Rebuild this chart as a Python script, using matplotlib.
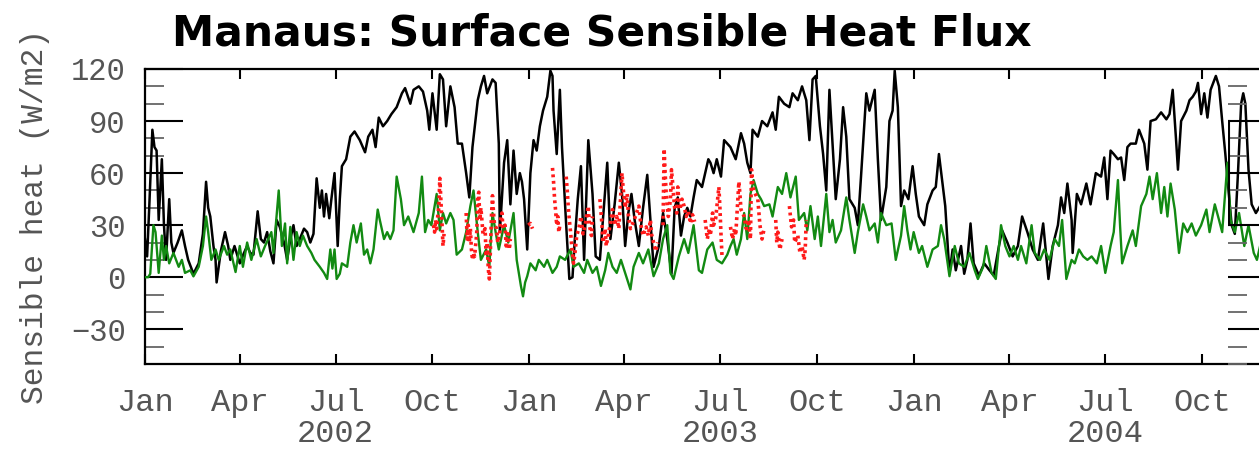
from __future__ import annotations

import matplotlib

matplotlib.use("Agg")
import matplotlib.dates as mdates
import matplotlib.pyplot as plt
import numpy as np
import pandas as pd
from matplotlib.ticker import FuncFormatter, MultipleLocator

START = pd.Timestamp("2002-01-01")

# observed flux (black), days since 2002-01-01 and W/m2
black_day = [
    0, 2, 4, 7, 9, 11, 13, 16, 18, 20, 23, 25, 27, 31, 35, 38, 41, 46, 51, 55,
    58, 60, 62, 65, 67, 68, 72, 76, 79, 81, 85, 90, 94, 97, 100, 103, 107, 110, 113, 116,
    119, 122, 125, 128, 132, 135, 138, 141, 144, 147, 151, 154, 157, 160, 163, 166, 168, 170, 172, 175,
    177, 180, 183, 185, 187, 191, 195, 199, 204, 209, 212, 216, 219, 222, 226, 230, 234, 239, 244, 247,
    252, 255, 260, 264, 268, 270, 273, 277, 280, 283, 286, 290, 294, 297, 301, 305, 308, 311, 316, 319,
    322, 325, 330, 333, 336, 337, 341, 344, 347, 350, 353, 356, 358, 360, 363, 366, 369, 372, 375, 378,
    382, 385, 387, 388, 391, 394, 396, 400, 403, 406, 408, 411, 414, 417, 421, 425, 428, 432, 436, 439,
    442, 446, 450, 453, 456, 459, 462, 465, 469, 473, 477, 480, 483, 488, 492, 496, 500, 503, 506, 509,
    512, 515, 518, 521, 524, 529, 532, 535, 537, 540, 543, 547, 550, 553, 556, 561, 566, 569, 572, 575,
    577, 582, 586, 591, 596, 599, 602, 607, 612, 615, 620, 624, 628, 631, 634, 637, 641, 644, 647, 650,
    653, 656, 660, 663, 666, 669, 674, 677, 680, 685, 688, 693, 696, 699, 704, 707, 710, 712, 715, 718,
    721, 725, 729, 732, 735, 740, 743, 748, 751, 754, 757, 760, 764, 767, 770, 775, 778, 781, 784, 787,
    792, 797, 802, 806, 811, 814, 819, 824, 829, 833, 838, 843, 848, 853, 858, 862, 867, 870, 873, 876,
    880, 881, 885, 889, 894, 898, 903, 908, 911, 914, 917, 920, 924, 927, 930, 933, 936, 941, 944, 949,
    952, 955, 960, 965, 970, 973, 976, 979, 981, 984, 989, 992, 995, 998, 1000, 1003, 1006, 1009, 1012, 1017,
    1020, 1023, 1026, 1029, 1032, 1035, 1038, 1041, 1043, 1045, 1048, 1051, 1055, 1059,
]
black_val = [
    22, 12, 40, 85, 75, 73, 33, 68, 30, 10, 45, 20, 14, 20, 27, 18, 10, 2, 8, 25,
    55, 40, 35, 18, 10, -3, 15, 26, 18, 10, 18, 8, 14, 18, 14, 13, 38, 22, 20, 26,
    15, 8, 33, 29, 20, 10, 22, 30, 18, 22, 28, 26, 20, 25, 57, 40, 50, 35, 48, 34,
    45, 60, 18, 45, 64, 68, 81, 84, 79, 72, 81, 85, 75, 92, 87, 90, 94, 98, 106, 109,
    100, 108, 110, 107, 96, 85, 106, 85, 117, 114, 87, 110, 98, 77, 77, 60, 46, 75, 102, 110,
    116, 106, 114, 112, 77, 26, 66, 79, 42, 73, 48, 60, 55, 45, 16, 60, 79, 73, 87, 96,
    104, 119, 116, 96, 71, 108, 75, 30, -1, 0, 20, 45, 64, 10, 79, 48, 12, 10, 42, 66,
    22, 42, 66, 48, 18, 37, 48, 33, 18, 40, 59, 33, 6, 18, 37, 22, 2, 40, 46, 24,
    35, 40, 35, 46, 56, 52, 60, 68, 66, 60, 68, 58, 79, 77, 75, 68, 83, 77, 66, 60,
    85, 81, 90, 87, 95, 85, 104, 100, 98, 106, 102, 110, 102, 79, 114, 116, 87, 71, 50, 108,
    77, 45, 68, 98, 81, 45, 40, 30, 58, 106, 96, 108, 68, 33, 52, 90, 96, 119, 98, 41,
    50, 45, 64, 48, 35, 30, 42, 50, 52, 71, 56, 41, 2, 16, 4, 18, 2, 10, 31, 8,
    1, 8, 4, 1, 18, 27, 20, 12, 18, 35, 26, 16, 10, 31, -1, 18, 30, 46, 37, 54,
    33, 14, 48, 42, 54, 42, 60, 58, 69, 45, 73, 71, 68, 69, 56, 75, 77, 77, 85, 77,
    62, 90, 91, 95, 91, 94, 108, 81, 62, 90, 96, 102, 104, 107, 112, 94, 106, 92, 108, 116,
    110, 90, 71, 50, 30, 25, 60, 100, 106, 100, 62, 42, 37, 41,
]

# model flux (green)
green_day = [
    0, 3, 5, 8, 10, 13, 16, 18, 20, 23, 27, 32, 35, 38, 43, 46, 51, 55, 58, 60,
    63, 67, 70, 75, 78, 81, 86, 90, 93, 97, 101, 106, 110, 114, 120, 122, 127, 130, 133, 135,
    138, 141, 144, 147, 150, 154, 158, 161, 166, 170, 173, 176, 178, 180, 182, 185, 187, 192, 195, 198,
    201, 205, 208, 211, 214, 217, 221, 223, 227, 230, 233, 236, 239, 243, 246, 250, 255, 260, 263, 266,
    269, 272, 277, 280, 283, 286, 290, 293, 296, 301, 305, 309, 312, 316, 319, 324, 327, 330, 333, 336,
    341, 345, 350, 353, 357, 359, 361, 363, 366, 371, 374, 379, 382, 387, 391, 394, 399, 404, 407, 412,
    417, 420, 425, 429, 433, 437, 440, 444, 448, 452, 456, 461, 464, 469, 473, 478, 483, 488, 492, 496,
    499, 502, 507, 512, 516, 521, 526, 529, 534, 539, 543, 548, 553, 556, 559, 562, 566, 569, 572, 575,
    578, 582, 585, 588, 593, 596, 601, 605, 609, 613, 618, 621, 626, 629, 632, 636, 639, 642, 647, 650,
    653, 656, 661, 666, 669, 674, 677, 682, 685, 688, 693, 696, 699, 704, 709, 713, 718, 721, 724, 727,
    730, 735, 738, 743, 748, 753, 756, 759, 764, 769, 773, 778, 783, 788, 791, 796, 799, 804, 808, 813,
    817, 821, 825, 829, 832, 837, 842, 845, 850, 854, 859, 864, 868, 871, 875, 880, 883, 887, 891, 895,
    899, 904, 908, 912, 917, 920, 924, 926, 928, 933, 938, 941, 946, 951, 954, 957, 961, 965, 968, 971,
    974, 978, 982, 986, 990, 994, 998, 1003, 1008, 1011, 1016, 1020, 1023, 1028, 1031, 1035, 1039, 1044, 1048, 1053,
    1056, 1059,
]
green_val = [
    0, 0, 2, 30, 26, 2.5, 24, 10, 18, 8, 14, 6, 10, 2.5, 4, 0.5, 6, 18, 35, 26,
    10, 16, 10, 18, 13, 16, 3, 18, 6, 20, 10, 22, 12, 18, 26, 14, 50, 18, 31, 8,
    29, 10, 26, 18, 24, 18, 14, 10, 6, 2.5, -1, 16, 5, 16, -1, 2, 8, 6, 20, 30,
    20, 31, 13, 16, 8, 16, 39, 33, 22, 26, 22, 27, 58, 45, 30, 35, 26, 37, 58, 26,
    33, 30, 48, 27, 37, 31, 37, 33, 13, 16, 26, 41, 50, 26, 10, 16, 6, 37, 26, 16,
    30, 20, 37, 10, -5, -11, -3, 0.6, 8, 4, 10, 6, 10, 2.5, 6, 12, 10, 16, 6, 8,
    2.5, 10, 2.5, 6, -5, 4, 14, 6, 2.5, 10, 2.5, -7, 6, 14, 8, 16, 0.6, 8, 22, 30,
    2.5, -1, 12, 22, 14, 30, 4, 2.5, 16, 20, 10, 8, 13, 18, 22, 13, 22, 37, 22, 48,
    56, 48, 45, 41, 42, 35, 52, 48, 60, 46, 58, 33, 37, 27, 41, 22, 35, 18, 48, 26,
    33, 20, 27, 46, 33, 14, 26, 42, 35, 27, 31, 20, 37, 30, 31, 10, 24, 41, 27, 16,
    26, 14, 18, 6, 16, 18, 30, 22, 0.6, 18, 8, 6, 14, 4, -1, 6, 18, 2.5, -1, 30,
    18, 12, 18, 10, 18, 8, 30, 14, 10, 16, 10, 22, 18, 33, -1, 10, 8, 16, 12, 10,
    12, 8, 18, 2.5, 18, 26, 56, 30, 8, 18, 27, 18, 41, 48, 58, 45, 60, 37, 52, 35,
    54, 39, 14, 31, 26, 31, 24, 30, 39, 26, 42, 33, 26, 66, 33, 26, 37, 18, 30, 14,
    10, 18,
]

# third estimate (red dotted), gaps as NaN
red_day = [
    274, 275, 276, 277, 278, 279, 280, 281, 282, 283, 284, 290,
    305, 306, 307, 308, 309, 310, 311, 312, 313, 315, 316, 317, 318, 319, 321, 323, 324, 325,
    326, 327, 328, 329, 330, 331, 332, 334, 335, 337, 338, 339, 340, 342, 343, 345, 346, 347, 355,
    364, 366, 368, 375,
    387, 388, 389, 390, 391, 392, 393, 394, 397, 400, 401, 402, 403, 404, 405, 406, 407, 408, 409,
    410, 412, 414, 416, 418, 421, 422, 424, 425, 428,
    432, 433, 434, 435, 437, 438, 440, 444, 446, 448, 450, 453, 454, 455, 456, 458, 459, 461, 464,
    469, 471, 473, 476, 478, 480, 481, 483, 485, 487, 490,
    492, 493, 494, 495, 496, 497, 499, 500, 501, 502, 503, 505, 506, 507, 508, 510, 512, 514, 516,
    518, 520, 522, 527,
    532, 534, 536, 537, 539, 540, 542, 545, 546, 547, 548, 552,
    556, 558, 560, 561, 564, 565, 566, 569, 571, 573, 575, 576, 577, 578, 582, 584, 586, 588, 593,
    599, 600, 601, 603, 605, 609, 612, 613, 614, 616, 617, 620, 622, 624, 626, 627, 628,
]
red_val = [
    30, 26, 33, 28, 35, 40, 57, 45, 32, 18, 25, np.nan,
    37, 22, 30, 20, 28, 16, 10, 14, 12, 25, 45, 49, 33, 40, 25, 28, 12, 20,
    5, -1, 15, 35, 47, 37, 30, 28, 20, 26, 35, 37, 28, 30, 18, 25, 16, 22, np.nan,
    30, 31, 28, np.nan,
    63, 55, 45, 38, 30, 35, 26, 30, np.nan, 58, 50, 40, 33, 27, 20, 14, 8, 12, 18,
    24, 28, 35, 25, 30, 41, 30, 24, 35, np.nan,
    45, 38, 30, 20, 28, 18, 24, 39, 30, 35, 28, 60, 52, 46, 40, 48, 36, 28, 32,
    41, 30, 24, 29, 24, 33, 25, 20, 15, 20, np.nan,
    30, 74, 60, 48, 41, 35, 45, 62, 55, 47, 40, 37, 52, 44, 39, 45, 41, 35, 38,
    31, 36, 32, np.nan,
    33, 22, 28, 24, 37, 30, 34, 52, 40, 25, 12, np.nan,
    29, 22, 28, 24, 55, 48, 39, 35, 28, 33, 22, 62, 55, 50, 45, 30, 22, 28, np.nan,
    33, 20, 26, 16, 22, np.nan, 41, 35, 29, 33, 20, 24, 14, 18, 10, 16, 33,
]

y_major = [-30, 0, 30, 60, 90, 120]
month_names = {1: "Jan", 4: "Apr", 7: "Jul", 10: "Oct"}

FIG_W, FIG_H, DPI = 1259, 454, 100
TICK_FONT = "Liberation Mono"
TEXT_GREY = "#555555"


def to_dates(days):
    return START + pd.to_timedelta(np.asarray(days, dtype=float), unit="D")


def month_label(x, pos=None):
    d = mdates.num2date(x)
    name = month_names.get(d.month, "")
    if d.month == 7:
        return f"{name}\n{d.year}"
    return name


def style_y_ticks(ax, show_labels=True):
    ax.yaxis.set_major_locator(plt.FixedLocator(y_major))
    ax.yaxis.set_minor_locator(MultipleLocator(10))
    ax.tick_params(axis="y", which="major", direction="in", length=27.5, width=1.5,
                   color="black", left=True, right=False, labelleft=show_labels, pad=14)
    ax.tick_params(axis="y", which="minor", direction="in", length=13.5, width=1.3,
                   color="#666666", left=True, right=False)


def make_figure(path="out.png"):
    fig = plt.figure(figsize=(FIG_W / DPI, FIG_H / DPI), dpi=DPI)
    left, bottom, top = 145 / FIG_W, 1 - 364 / FIG_H, 1 - 69 / FIG_H
    width = 1096 * 1.052 / FIG_W
    ax = fig.add_axes([left, bottom, width, top - bottom])

    ax.plot(to_dates(black_day), black_val, color="black", lw=1.8, zorder=3)
    ax.plot(to_dates(green_day), green_val, color="#128a12", lw=1.7, zorder=4)
    ax.plot(to_dates(red_day), red_val, color="#ff1a1a", lw=2.6,
            linestyle=(0, (0.8, 1.0)), zorder=5)

    ax.set_xlim(START, pd.Timestamp("2004-12-31"))
    ax.set_ylim(-50, 120)
    style_y_ticks(ax)
    ax.set_yticklabels([str(v).replace("-", "\u2212") for v in y_major])

    ax.xaxis.set_major_locator(mdates.MonthLocator(bymonth=[1, 4, 7, 10]))
    ax.xaxis.set_major_formatter(FuncFormatter(month_label))
    ax.tick_params(axis="x", direction="in", length=7.5, width=1.5, top=True, bottom=True,
                   pad=17)
    for lab in ax.get_xticklabels() + ax.get_yticklabels():
        lab.set_fontfamily(TICK_FONT)
        lab.set_color(TEXT_GREY)
    for lab in ax.get_xticklabels():
        lab.set_fontsize(23)
        lab.set_linespacing(1.05)
    for lab in ax.get_yticklabels():
        lab.set_fontsize(22)
    for side in ("left", "bottom", "top", "right"):
        ax.spines[side].set_linewidth(1.6)

    # left edge of the neighbouring panel that overlaps the right side
    frag = fig.add_axes([1228 / FIG_W, bottom, 0.2, top - bottom], facecolor="none")
    frag.set_ylim(-50, 120)
    style_y_ticks(frag, show_labels=False)
    frag.set_xticks([])
    for side in frag.spines.values():
        side.set_visible(False)
    frag.axvline(0.004, ymin=(30 + 50) / 170, ymax=(90 + 50) / 170, color="black", lw=1.5)

    fig.text(35 / FIG_W, 1 - 217 / FIG_H, "Sensible heat (W/m2)", rotation=90,
             ha="center", va="center", fontsize=22.5, family=TICK_FONT, color=TEXT_GREY)
    fig.text(602 / FIG_W, 1 - 33 / FIG_H, "Manaus: Surface Sensible Heat Flux",
             ha="center", va="center", fontsize=30.5, fontweight="bold", family="DejaVu Sans")

    fig.savefig(path, dpi=DPI)
    plt.close(fig)


def main():
    make_figure()


if __name__ == "__main__":
    main()
